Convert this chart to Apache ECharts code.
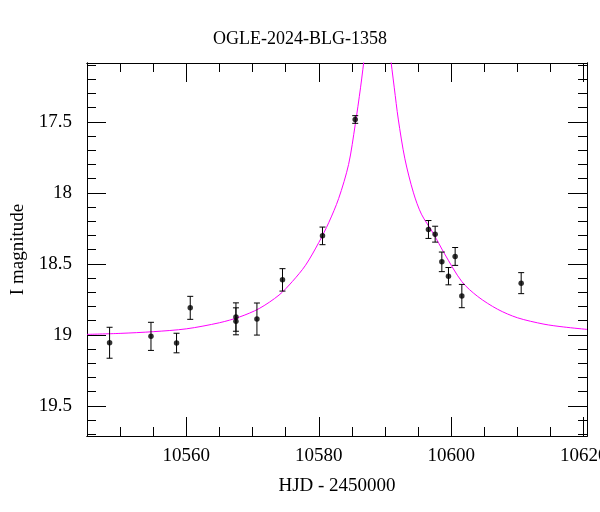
<!DOCTYPE html>
<html>
<head>
<meta charset="utf-8">
<script src="https://cdn.jsdelivr.net/npm/echarts@6/dist/echarts.min.js"></script>
<style>html,body{margin:0;padding:0;background:#fff;}#c{width:600px;height:512px;}</style>
</head>
<body>
<div id="c"></div>
<script>
// Observations (HJD - 2450000, I mag, error)
const obsT = [10548.41,10554.66,10558.52,10560.59,10567.49,10567.49,10570.66,10574.52,10580.56,10585.50,10596.56,10597.57,10598.58,10599.58,10600.59,10601.60,10610.56];
const obsMag = [19.056,19.011,19.058,18.810,18.875,18.905,18.889,18.613,18.303,17.483,18.258,18.291,18.486,18.587,18.448,18.727,18.636];
const obsErr = [0.109,0.099,0.069,0.081,0.100,0.095,0.113,0.079,0.062,0.027,0.063,0.056,0.069,0.061,0.063,0.082,0.074];
// Model curve
const modelT = [10545,10550,10555,10560,10565,10568,10571,10574,10576,10578,10580,10581.5,10583,10584.5,10585.5,10586.3,10587,10588,10588.85,10589.7,10590.7,10591.4,10592,10593,10594.3,10595.5,10597.3,10599,10601.6,10604,10607,10610,10614,10617,10620.5];
const modelMag = [18.997,18.99,18.978,18.958,18.915,18.875,18.815,18.72,18.625,18.51,18.35,18.21,18.04,17.8,17.52,17.26,17.0,16.65,16.47,16.65,17.0,17.26,17.48,17.76,18.0,18.15,18.286,18.43,18.625,18.73,18.82,18.88,18.925,18.945,18.962];
// Ticks
const xMajor = [10560,10580,10600,10620];
const xMinor = [10545,10550,10555,10560,10565,10570,10575,10580,10585,10590,10595,10600,10605,10610,10615,10620];
const yMajor = [17.5,18,18.5,19,19.5];
const yMinor = [17.1,17.2,17.3,17.4,17.5,17.6,17.7,17.8,17.9,18.0,18.1,18.2,18.3,18.4,18.5,18.6,18.7,18.8,18.9,19.0,19.1,19.2,19.3,19.4,19.5,19.6,19.7];

const FONT = 'Liberation Serif';
const X_MIN = 10545, X_MAX = 10620.5, Y_MIN = 17.085, Y_MAX = 19.713;

function xAx(pos, major, labels, name) {
  return {
    type: 'value', position: pos, min: X_MIN, max: X_MAX,
    axisLine: { show: true, onZero: false, lineStyle: { color: '#000', width: 1 } },
    axisTick: { show: true, inside: true, length: major ? 19 : 9, customValues: major ? xMajor : xMinor, lineStyle: { color: '#000', width: 1 } },
    axisLabel: { show: labels, customValues: xMajor, margin: 11, fontFamily: FONT, fontSize: 19, color: '#000', formatter: v => String(v), hideOverlap: false },
    splitLine: { show: false },
    name: name || '', nameLocation: 'middle', nameGap: 41,
    nameTextStyle: { fontFamily: FONT, fontSize: 19, color: '#000' }
  };
}
function yAx(pos, major, labels, name) {
  return {
    type: 'value', position: pos, min: Y_MIN, max: Y_MAX, inverse: true,
    axisLine: { show: true, onZero: false, lineStyle: { color: '#000', width: 1 } },
    axisTick: { show: true, inside: true, length: major ? 19 : 9, customValues: major ? yMajor : yMinor, lineStyle: { color: '#000', width: 1 } },
    axisLabel: { show: labels, customValues: yMajor, margin: 15, fontFamily: FONT, fontSize: 19, color: '#000', formatter: v => String(v) },
    splitLine: { show: false },
    name: name || '', nameLocation: 'middle', nameGap: 50, nameRotate: 90,
    nameTextStyle: { fontFamily: FONT, fontSize: 19, color: '#000' }
  };
}

const obsData = obsT.map((t, i) => [t, obsMag[i], obsErr[i]]);
const modelData = modelT.map((t, i) => [t, modelMag[i]]);

const chart = echarts.init(document.getElementById('c'), null, { renderer: 'canvas' });
chart.setOption({
  animation: false,
  backgroundColor: '#fff',
  title: { text: 'OGLE-2024-BLG-1358', left: 'center', top: 25, textStyle: { fontFamily: FONT, fontSize: 18, fontWeight: 'normal', color: '#000' } },
  grid: { left: 87, right: 13, top: 63, bottom: 76, containLabel: false, outerBoundsMode: 'none' },
  xAxis: [xAx('bottom', true, true, 'HJD - 2450000'), xAx('bottom', false, false), xAx('top', true, false), xAx('top', false, false)],
  yAxis: [yAx('left', true, true, 'I magnitude'), yAx('left', false, false), yAx('right', true, false), yAx('right', false, false)],
  series: [
    {
      type: 'line', data: modelData, xAxisIndex: 0, yAxisIndex: 0,
      smooth: 0.3, showSymbol: false, clip: true,
      lineStyle: { color: '#ff00ff', width: 1 }, z: 1
    },
    {
      type: 'custom', data: obsData, xAxisIndex: 0, yAxisIndex: 0, z: 2,
      renderItem: function (params, api) {
        const t = api.value(0), m = api.value(1), e = api.value(2);
        const top = api.coord([t, m - e]);
        const bot = api.coord([t, m + e]);
        const w = 3;
        return {
          type: 'group',
          children: [
            { type: 'line', shape: { x1: top[0], y1: top[1], x2: bot[0], y2: bot[1] }, style: { stroke: '#000', lineWidth: 1 } },
            { type: 'line', shape: { x1: top[0] - w, y1: top[1], x2: top[0] + w, y2: top[1] }, style: { stroke: '#000', lineWidth: 1 } },
            { type: 'line', shape: { x1: bot[0] - w, y1: bot[1], x2: bot[0] + w, y2: bot[1] }, style: { stroke: '#000', lineWidth: 1 } }
          ]
        };
      }
    },
    {
      type: 'scatter', data: obsData.map(d => [d[0], d[1]]), xAxisIndex: 0, yAxisIndex: 0,
      symbol: 'circle', symbolSize: 5.5, itemStyle: { color: '#000' }, z: 3
    }
  ]
});
</script>
</body>
</html>
